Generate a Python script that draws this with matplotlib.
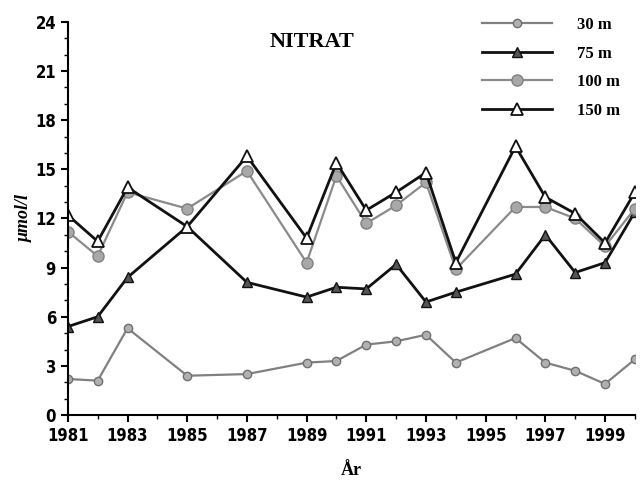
import matplotlib.pyplot as plt
from matplotlib.ticker import MultipleLocator

years = [1981, 1982, 1983, 1985, 1987, 1989, 1990, 1991, 1992, 1993,
         1994, 1996, 1997, 1998, 1999, 2000]

n30 = [2.2, 2.1, 5.3, 2.4, 2.5, 3.2, 3.3, 4.3, 4.5, 4.9,
       3.2, 4.7, 3.2, 2.7, 1.9, 3.4]
n75 = [5.4, 6.0, 8.4, 11.5, 8.1, 7.2, 7.8, 7.7, 9.2, 6.9,
       7.5, 8.6, 11.0, 8.7, 9.3, 12.4]
n100 = [11.2, 9.7, 13.6, 12.6, 14.9, 9.3, 14.6, 11.7, 12.8, 14.2,
        8.9, 12.7, 12.7, 12.0, 10.3, 12.6]
n150 = [12.2, 10.6, 13.9, 11.5, 15.8, 10.8, 15.4, 12.5, 13.6, 14.8,
        9.3, 16.4, 13.3, 12.3, 10.5, 13.6]

labels = ["30 m", "75 m", "100 m", "150 m"]
xticks = [1981, 1983, 1985, 1987, 1989, 1991, 1993, 1995, 1997, 1999]
yticks = [0, 3, 6, 9, 12, 15, 18, 21, 24]

serif = ["Liberation Serif", "DejaVu Serif"]

fig = plt.figure(figsize=(6.4, 4.86), dpi=100)
ax = fig.add_axes([0.106, 0.146, 0.886, 0.809])

# series
ax.plot(years, n30, color="#808080", lw=1.6, marker="o", ms=6,
        mfc="#b0b0b0", mec="#707070", mew=1, label=labels[0])
ax.plot(years, n75, color="#111111", lw=2, marker="^", ms=7,
        mfc="#555555", mec="#111111", mew=1, label=labels[1])
ax.plot(years, n100, color="#8a8a8a", lw=1.6, marker="o", ms=8,
        mfc="#a8a8a8", mec="#808080", mew=1, label=labels[2])
ax.plot(years, n150, color="#111111", lw=2, marker="^", ms=9,
        mfc="white", mec="#111111", mew=1.3, label=labels[3])

ax.set_xlim(1981, 2000)
ax.set_ylim(0, 24)
ax.set_xticks(xticks)
ax.set_yticks(yticks)
ax.xaxis.set_minor_locator(MultipleLocator(1))
ax.yaxis.set_minor_locator(MultipleLocator(1))
ax.tick_params(which="major", length=5, width=1.5, direction="out")
ax.tick_params(which="minor", length=3, width=1, direction="out")
for lab in ax.get_xticklabels() + ax.get_yticklabels():
    lab.set_family("DejaVu Sans")
    lab.set_stretch("condensed")
    lab.set_fontweight("bold")
    lab.set_fontsize(12)

for s in ["top", "right"]:
    ax.spines[s].set_visible(False)
for s in ["left", "bottom"]:
    ax.spines[s].set_linewidth(1.5)

ax.set_xlabel("År", family=serif, fontweight="bold", fontsize=13, labelpad=12)
ax.set_ylabel("μmol/l", family=serif, fontweight="bold", fontstyle="italic",
              fontsize=13, labelpad=2)
ax.text(0.43, 0.975, "NITRAT", transform=ax.transAxes, ha="center", va="top",
        family=serif, fontweight="bold", fontsize=16)

leg = ax.legend(loc="upper right", bbox_to_anchor=(1.0, 1.05), frameon=False,
                handlelength=4.2, handletextpad=1.5, labelspacing=0.75,
                prop={"family": serif, "weight": "bold", "size": 12})

fig.savefig("out.png", dpi=100)
